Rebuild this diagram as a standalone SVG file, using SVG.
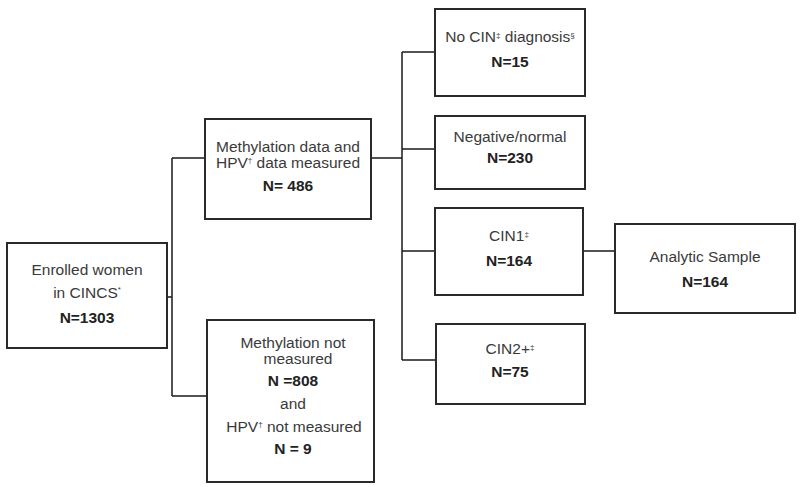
<svg xmlns="http://www.w3.org/2000/svg" width="800" height="487" viewBox="0 0 800 487">
<style>
.box{fill:#fff;stroke:#2a2a2a;stroke-width:2}
.ln{fill:none;stroke:#1a1a1a;stroke-width:1.5}
text{font-family:"Liberation Sans",Arial,sans-serif;font-size:15.5px;fill:#3a3a3a;text-anchor:middle}
.b{font-weight:bold;fill:#222}
.sup{font-size:8px}
</style>
<rect width="800" height="487" fill="#fff"/>
<g id="connectors">
<path class="ln" d="M167,297H172M172,158V396M172,158H205M172,396H207M371,158H402M402,52V360M402,52H435M402,149H435M402,251H435M402,360H435M583,251H615"/>
</g>
<g id="enrolled">
<rect class="box" x="7" y="243" width="160" height="105"/>
<text x="87" y="275">Enrolled women</text>
<text x="87" y="298">in CINCS<tspan class="sup" dy="-6">*</tspan></text>
<text class="b" x="87" y="323">N=1303</text>
</g>
<g id="measured">
<rect class="box" x="205" y="119" width="166" height="100"/>
<text x="288" y="152">Methylation data and</text>
<text x="288" y="168">HPV<tspan class="sup" dy="-5">†</tspan><tspan dy="5"> data measured</tspan></text>
<text class="b" x="288" y="191">N= 486</text>
</g>
<g id="notmeasured">
<rect class="box" x="207" y="320" width="167" height="162"/>
<text x="293" y="348">Methylation not</text>
<text x="298" y="364">measured</text>
<text class="b" x="293" y="386">N =808</text>
<text x="293" y="409">and</text>
<text x="294" y="432">HPV<tspan class="sup" dy="-5">†</tspan><tspan dy="5"> not measured</tspan></text>
<text class="b" x="293" y="454">N = 9</text>
</g>
<g id="nocin">
<rect class="box" x="435" y="9" width="150" height="87"/>
<text x="510" y="42">No CIN<tspan class="sup" dy="-4">‡</tspan><tspan dy="4"> diagnosis</tspan><tspan class="sup" dy="-4">§</tspan></text>
<text class="b" x="510" y="67">N=15</text>
</g>
<g id="negative">
<rect class="box" x="435" y="116" width="150" height="73"/>
<text x="510" y="142">Negative/normal</text>
<text class="b" x="510" y="163">N=230</text>
</g>
<g id="cin1">
<rect class="box" x="435" y="208" width="148" height="87"/>
<text x="509" y="241">CIN1<tspan class="sup" dy="-4">‡</tspan></text>
<text class="b" x="509" y="266">N=164</text>
</g>
<g id="cin2">
<rect class="box" x="436" y="324" width="149" height="80"/>
<text x="510" y="354">CIN2+<tspan class="sup" dy="-4">‡</tspan></text>
<text class="b" x="510" y="377">N=75</text>
</g>
<g id="analytic">
<rect class="box" x="615" y="224" width="180" height="89"/>
<text x="705" y="262">Analytic Sample</text>
<text class="b" x="705" y="287">N=164</text>
</g>
</svg>
